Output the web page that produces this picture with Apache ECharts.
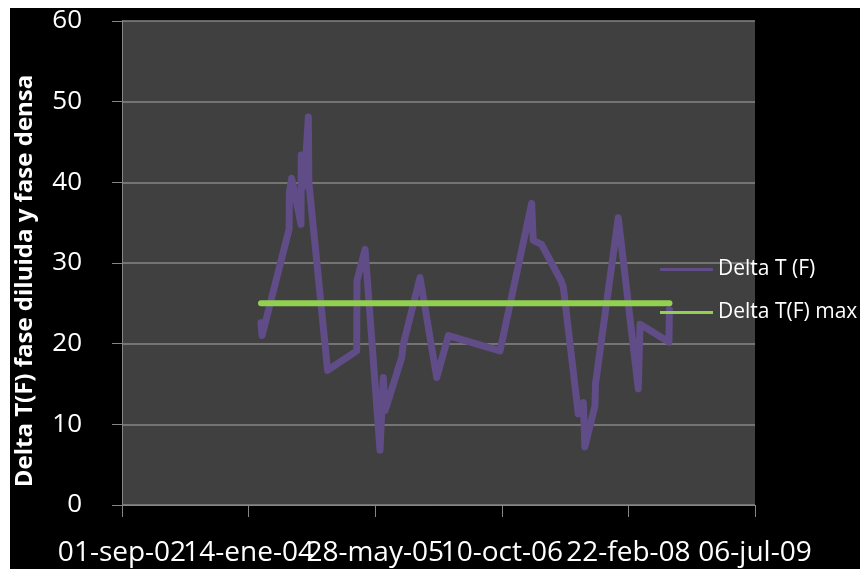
<!DOCTYPE html>
<html>
<head>
<meta charset="utf-8">
<script src="https://cdn.jsdelivr.net/npm/echarts@6/dist/echarts.min.js"></script>
<style>
  html, body { margin: 0; padding: 0; background: #ffffff; }
  #chart { position: absolute; left: 10px; top: 8px; width: 850px; height: 561px; }
</style>
</head>
<body>
<div id="chart"></div>
<script>
// Measurement dates (ISO) and temperature difference readings
const sampleDates = [
  '2004-03-03','2004-03-07','2004-06-22','2004-06-23','2004-07-02','2004-08-08','2004-08-09',
  '2004-08-20','2004-09-06','2004-09-08','2004-11-21','2005-03-16','2005-03-17','2005-04-18',
  '2005-06-16','2005-06-29','2005-07-06','2005-09-10','2005-09-15','2005-11-21','2006-01-26',
  '2006-03-13','2006-10-03','2007-02-05','2007-02-11','2007-03-16','2007-06-01','2007-06-10',
  '2007-08-08','2007-08-28','2007-09-03','2007-10-13','2007-10-15','2008-01-13','2008-04-01',
  '2008-04-08','2008-07-31','2008-08-02'
];
const deltaT = [
  22.6, 21.0, 34.2, 38.7, 40.5, 34.8, 43.4,
  39.5, 48.1, 40.0, 16.7, 19.1, 27.8, 31.7,
  6.8, 15.8, 11.7, 18.3, 19.8, 28.2, 15.8,
  21.0, 19.1, 37.4, 32.8, 32.3, 27.8, 27.0,
  11.3, 12.7, 7.2, 12.3, 15.0, 35.6, 14.4,
  22.4, 20.2, 24.2
];
// Maximum allowed difference (limit line)
const limitDates = ['2004-03-03', '2008-08-02'];
const deltaTMax = [25, 25];

// Date axis: day serials, ticks every 500 days
const xMin = 37500, xMax = 40000, xStep = 500;
const xTickLabels = ['01-sep-02', '14-ene-04', '28-may-05', '10-oct-06', '22-feb-08', '06-jul-09'];
const yTicks = [0, 10, 20, 30, 40, 50, 60];

const seriesNames = ['Delta T (F)', 'Delta T(F) max'];
const yTitle = 'Delta T(F) fase diluida y fase densa';

function toSerial(iso) {
  const p = iso.split('-').map(Number);
  return Math.round((Date.UTC(p[0], p[1] - 1, p[2]) - Date.UTC(1899, 11, 30)) / 86400000);
}
const pairs = (ds, vs) => ds.map((d, i) => [toSerial(d), vs[i]]);

const FONT = '"Open Sans", "Liberation Sans", sans-serif';
const chart = echarts.init(document.getElementById('chart'), null, { renderer: 'canvas' });

// The date labels are wider than the tick spacing and run into each other;
// even and odd labels go on two stacked copies of the same axis so none is dropped.
function dateAxis(parity, main) {
  return {
    type: 'value',
    position: 'bottom',
    min: xMin, max: xMax, interval: xStep,
    axisLine: { show: main, lineStyle: { color: '#868686', width: 1 } },
    axisTick: { show: main, length: 12, lineStyle: { color: '#868686' } },
    splitLine: { show: false },
    axisLabel: {
      color: '#ffffff', fontSize: 28, fontFamily: FONT, margin: 34,
      showMinLabel: true, showMaxLabel: true,
      formatter: v => {
        const i = Math.round((v - xMin) / xStep);
        return i % 2 === parity ? xTickLabels[i] : '';
      }
    }
  };
}

chart.setOption({
  backgroundColor: '#000000',
  animation: false,
  grid: {
    left: 112, top: 11, right: 105, bottom: 64,
    show: true, backgroundColor: '#404040', borderWidth: 0
  },
  legend: {
    orient: 'vertical',
    left: 645, top: 246,
    icon: 'rect',
    itemWidth: 53, itemHeight: 3, itemGap: 22,
    textStyle: { color: '#ffffff', fontSize: 21, fontFamily: FONT },
    data: seriesNames
  },
  xAxis: [dateAxis(0, true), dateAxis(1, false)],
  yAxis: {
    type: 'value',
    min: yTicks[0], max: yTicks[yTicks.length - 1], interval: 10,
    axisLine: { show: true, lineStyle: { color: '#868686', width: 1 } },
    axisTick: { show: true, length: 10, lineStyle: { color: '#868686' } },
    splitLine: { show: true, lineStyle: { color: '#868686', width: 1.5 } },
    axisLabel: { color: '#ffffff', fontSize: 26, fontFamily: FONT, margin: 40 }
  },
  graphic: [{
    type: 'text',
    x: 15, y: 273,
    rotation: Math.PI / 2,
    style: {
      text: yTitle,
      fill: '#ffffff',
      font: 'bold 24px ' + FONT,
      align: 'center',
      verticalAlign: 'middle'
    }
  }],
  series: [
    {
      name: seriesNames[0],
      type: 'line',
      xAxisIndex: 0,
      data: pairs(sampleDates, deltaT),
      symbol: 'none',
      lineStyle: { color: '#604C86', width: 7, cap: 'round', join: 'round' },
      itemStyle: { color: '#604C86' },
      z: 2
    },
    {
      name: seriesNames[1],
      type: 'line',
      xAxisIndex: 0,
      data: pairs(limitDates, deltaTMax),
      symbol: 'none',
      lineStyle: { color: '#92D050', width: 6, cap: 'round', join: 'round' },
      itemStyle: { color: '#92D050' },
      z: 3
    }
  ]
});
</script>
</body>
</html>
